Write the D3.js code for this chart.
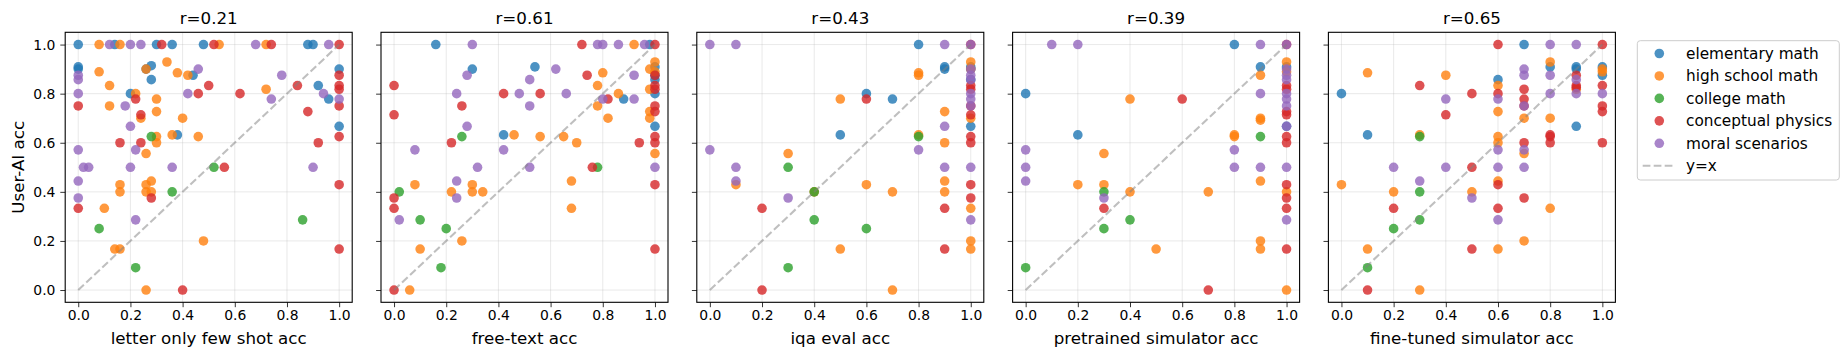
<!DOCTYPE html>
<html><head><meta charset="utf-8">
<script src="https://cdn.jsdelivr.net/npm/d3@7"></script>
<style>body{margin:0;background:#fff}svg{display:block;font-family:"DejaVu Sans",sans-serif}</style>
</head><body><svg id="c" width="1848" height="359"></svg>
<script>
const categories = ["elementary math","high school math","college math","conceptual physics","moral scenarios"];
const colors = ["#1f77b4","#ff7f0e","#2ca02c","#d62728","#9467bd"];
const xLabels = ["letter only few shot acc","free-text acc","iqa eval acc","pretrained simulator acc","fine-tuned simulator acc"];
const rValues = ["r=0.21","r=0.61","r=0.43","r=0.39","r=0.65"];
const tickValues = [0,0.2,0.4,0.6,0.8,1.0];
const yLabel = "User-AI acc";

// panel 1: letter only few shot acc
const p1Elem = [[0,1],[0,0.9],[0,0.909],[0.14,1],[0.3,1],[0.36,1],[0.48,1],[0.88,1],[0.9,1],[0.26,0.9],[0.28,0.914],[0.28,0.857],[0.2,0.8],[0.44,0.875],[0.38,0.632],[0.92,0.833],[0.96,0.778],[1,0.9],[1,0.667]];
const p1High = [[0.08,1],[0.16,1],[0.54,1],[0.72,1],[0.34,0.929],[0.08,0.889],[0.38,0.885],[0.42,0.875],[0.26,0.9],[0.12,0.833],[0.22,0.8],[0.72,0.818],[0.12,0.75],[0.3,0.778],[0.3,0.727],[0.24,0.7],[0.4,0.7],[0.3,0.625],[0.3,0.6],[0.36,0.632],[0.46,0.625],[0.26,0.556],[0.16,0.429],[0.16,0.4],[0.26,0.429],[0.28,0.444],[0.26,0.4],[0.28,0.4],[0.1,0.333],[0.14,0.167],[0.16,0.167],[0.48,0.2],[0.26,0]];
const p1College = [[0.28,0.625],[0.36,0.4],[0.52,0.5],[0.08,0.25],[0.22,0.091],[0.86,0.286]];
const p1Physics = [[0.32,1],[0.52,1],[0.74,1],[1,1],[0.5,0.833],[0.46,0.8],[0.62,0.8],[0.84,0.833],[0.22,0.778],[0,0.75],[0.24,0.714],[0.88,0.727],[0.16,0.6],[0.24,0.6],[0.92,0.6],[0.56,0.5],[0.28,0.375],[0,0.333],[0.4,0],[1,0.875],[1,0.833],[1,0.818],[1,0.75],[1,0.625],[1,0.429],[1,0.167]];
const p1Moral = [[0.12,1],[0.2,1],[0.24,1],[0.68,1],[0.96,1],[0,0.875],[0,0.857],[0,0.8],[0.46,0.9],[0.42,0.8],[0.78,0.875],[0.74,0.778],[0.94,0.8],[1,0.778],[0.18,0.75],[0.2,0.667],[0,0.571],[0.22,0.571],[0.02,0.5],[0.04,0.5],[0.2,0.5],[0.36,0.5],[0.9,0.5],[0,0.444],[0,0.375],[0.22,0.286]];

// panel 2: free-text acc
const p2Elem = [[0.16,1],[0.3,0.9],[0.54,0.909],[0.42,0.632],[0.88,0.778],[0.98,1],[1,0.909],[1,0.857],[1,0.8],[1,0.667],[1,0.875]];
const p2High = [[0.92,1],[0.8,0.885],[0.78,0.833],[0.86,0.8],[0.78,0.75],[0.82,0.7],[0.46,0.632],[0.56,0.625],[0.65,0.625],[0.7,0.6],[0.68,0.444],[0.68,0.333],[0.08,0.429],[0.22,0.4],[0.3,0.429],[0.3,0.4],[0.34,0.4],[0.26,0.2],[0.1,0.167],[0.06,0],[1,0.929],[0.98,0.9],[1,0.889],[0.98,0.818],[0.98,0.727],[0.98,0.7],[1,0.556]];
const p2College = [[0.26,0.625],[0.78,0.5],[0.02,0.4],[0.1,0.286],[0.2,0.25],[0.18,0.091]];
const p2Physics = [[0.72,1],[1,1],[0.74,0.875],[0,0.833],[0.42,0.8],[0.56,0.8],[0.26,0.75],[0,0.714],[0.82,0.778],[0.22,0.6],[0.94,0.6],[0.76,0.5],[0,0.375],[0,0.333],[0,0],[1,0.875],[1,0.833],[1,0.818],[1,0.75],[1,0.727],[1,0.625],[1,0.6],[1,0.429],[1,0.167]];
const p2Moral = [[0.3,1],[0.78,1],[0.8,1],[0.86,1],[0.96,1],[0.62,0.9],[0.28,0.875],[0.52,0.857],[0.24,0.8],[0.48,0.8],[0.66,0.8],[0.52,0.75],[0.8,0.778],[0.92,0.875],[0.92,0.778],[0.28,0.667],[0.08,0.571],[0.42,0.571],[0.32,0.5],[0.52,0.5],[0.24,0.444],[0.24,0.375],[0.02,0.286],[1,0.5]];

// panel 3: iqa eval acc
const p3Elem = [[0.8,1],[0.9,0.909],[0.9,0.9],[0.6,0.8],[0.7,0.778],[0.5,0.632],[1,0.909],[1,0.667],[1,0.9],[1,0.857]];
const p3High = [[0.8,0.885],[0.8,0.875],[0.5,0.778],[0.9,0.727],[0.8,0.632],[0.9,0.6],[0.3,0.556],[0.1,0.429],[0.6,0.429],[0.7,0.4],[0.9,0.444],[0.9,0.4],[0.5,0.167],[0.7,0],[0.4,0.4],[1,0.929],[1,0.9],[1,0.7],[1,0.333],[1,0.2],[1,0.167]];
const p3College = [[0.8,0.625],[0.3,0.5],[0.4,0.4],[0.4,0.286],[0.6,0.25],[0.3,0.091]];
const p3Physics = [[0.6,0.778],[0.2,0.333],[0.9,0.333],[0.9,0.167],[0.2,0],[1,1],[1,0.833],[1,0.818],[1,0.75],[1,0.714],[1,0.625],[1,0.6],[1,0.429],[1,0.375]];
const p3Moral = [[0,1],[0.1,1],[0.9,1],[1,1],[0,0.571],[0.1,0.5],[0.1,0.444],[0.3,0.375],[0.8,0.571],[0.9,0.667],[0.9,0.5],[1,0.9],[1,0.875],[1,0.857],[1,0.8],[1,0.778],[1,0.75],[1,0.5],[1,0.286]];

// panel 4: pretrained simulator acc
const p4Elem = [[0.8,1],[0.9,0.909],[0,0.8],[0.2,0.632],[1,0.909],[1,0.667]];
const p4High = [[0.9,0.875],[0.4,0.778],[0.9,0.7],[0.9,0.692],[0.8,0.632],[0.8,0.625],[0.3,0.556],[0.2,0.429],[0.3,0.429],[0.4,0.4],[0.7,0.4],[0.9,0.444],[0.5,0.167],[0.9,0.2],[0.9,0.167],[1,0.929],[1,0.889],[1,0.4],[1,0]];
const p4College = [[0.9,0.625],[0.3,0.4],[0.4,0.286],[0.3,0.25],[0,0.091]];
const p4Physics = [[0.6,0.778],[0.3,0.333],[0.7,0],[1,1],[1,0.833],[1,0.818],[1,0.727],[1,0.714],[1,0.625],[1,0.6],[1,0.429],[1,0.375],[1,0.333],[1,0.167]];
const p4Moral = [[0.1,1],[0.2,1],[0.9,1],[1,1],[0.9,0.8],[0,0.571],[0,0.5],[0,0.444],[0.3,0.375],[0.8,0.571],[0.8,0.5],[0.9,0.5],[1,0.9],[1,0.875],[1,0.857],[1,0.8],[1,0.778],[1,0.75],[1,0.667],[1,0.5],[1,0.286]];

// panel 5: fine-tuned simulator acc
const p5Elem = [[0.7,1],[0,0.8],[0.1,0.632],[0.6,0.857],[0.8,0.909],[0.9,0.909],[0.9,0.9],[1,0.909],[1,0.875],[0.9,0.667]];
const p5High = [[0.1,0.885],[0.4,0.875],[0.8,0.929],[1,0.9],[1,0.889],[0.6,0.833],[0.6,0.727],[0.7,0.7],[0.8,0.7],[0.6,0.625],[0.6,0.6],[0.7,0.556],[0,0.429],[0.2,0.4],[0.3,0.632],[0.5,0.4],[0.6,0.444],[0.8,0.333],[0.7,0.2],[0.1,0.167],[0.6,0.167],[0.3,0],[0.9,0.818]];
const p5College = [[0.3,0.625],[0.3,0.4],[0.3,0.286],[0.2,0.25],[0.1,0.091]];
const p5Physics = [[0.6,1],[1,1],[0.3,0.833],[0.5,0.8],[0.6,0.8],[0.7,0.818],[0.7,0.778],[0.4,0.714],[0.7,0.75],[0.9,0.875],[0.9,0.833],[0.9,0.825],[1,0.833],[1,0.75],[1,0.727],[0.8,0.632],[0.8,0.625],[0.8,0.6],[0.7,0.6],[1,0.6],[0.5,0.5],[0.6,0.429],[0.7,0.375],[0.2,0.333],[0.6,0.333],[0.5,0.167],[0.1,0]];
const p5Moral = [[0.8,1],[0.9,1],[0.7,0.9],[0.7,0.875],[0.8,0.875],[0.9,0.857],[0.4,0.778],[0.6,0.778],[0.7,0.75],[0.8,0.8],[0.9,0.8],[1,0.8],[0.6,0.571],[0.7,0.571],[0.2,0.5],[0.4,0.5],[0.6,0.5],[0.7,0.5],[0.3,0.444],[0.5,0.375],[0.6,0.286]];

const panelSeries = [
  [p1Elem,p1High,p1College,p1Physics,p1Moral],
  [p2Elem,p2High,p2College,p2Physics,p2Moral],
  [p3Elem,p3High,p3College,p3Physics,p3Moral],
  [p4Elem,p4High,p4College,p4Physics,p4Moral],
  [p5Elem,p5High,p5College,p5Physics,p5Moral]
];

const svg = d3.select("#c");
svg.append("rect").attr("width",1848).attr("height",359).attr("fill","#fff");
const W = 287, H = 270, topY = 32.3, left0 = 65.2, step = 315.8, R = 4.8;
const y = d3.scaleLinear().domain([-0.05,1.05]).range([topY+H, topY]);

panelSeries.forEach((series, i) => {
  const L = left0 + i*step;
  const x = d3.scaleLinear().domain([-0.05,1.05]).range([L, L+W]);
  const g = svg.append("g");
  g.selectAll(".gx").data(tickValues).join("line")
    .attr("x1",d=>x(d)).attr("x2",d=>x(d)).attr("y1",topY).attr("y2",topY+H)
    .attr("stroke","#b0b0b0").attr("stroke-opacity",0.35).attr("stroke-width",0.8);
  g.selectAll(".gy").data(tickValues).join("line")
    .attr("x1",L).attr("x2",L+W).attr("y1",d=>y(d)).attr("y2",d=>y(d))
    .attr("stroke","#b0b0b0").attr("stroke-opacity",0.35).attr("stroke-width",0.8);
  series.forEach((pts, k) => {
    g.append("g").selectAll("circle").data(pts).join("circle")
      .attr("cx",d=>x(d[0])).attr("cy",d=>y(d[1])).attr("r",R)
      .attr("fill",colors[k]).attr("fill-opacity",0.8);
  });
  g.append("line").attr("x1",x(0)).attr("y1",y(0)).attr("x2",x(1)).attr("y2",y(1))
    .attr("stroke","#808080").attr("stroke-opacity",0.5).attr("stroke-width",2.08)
    .attr("stroke-dasharray","7.7,3.3");
  const xa = g.append("g").attr("transform",`translate(0,${topY+H})`)
    .call(d3.axisBottom(x).tickValues(tickValues).tickFormat(d3.format(".1f")).tickSize(4.9).tickPadding(3.2));
  const ya = g.append("g").attr("transform",`translate(${L},0)`)
    .call(d3.axisLeft(y).tickValues(tickValues).tickFormat(i===0?d3.format(".1f"):()=>"").tickSize(4.9).tickPadding(4.9));
  [xa,ya].forEach(a=>{
    a.select(".domain").remove();
    a.selectAll("line").attr("stroke","#000").attr("stroke-width",0.8);
    a.selectAll("text").attr("font-size",13.9).attr("fill","#000").attr("font-family","DejaVu Sans");
  });
  g.append("rect").attr("x",L).attr("y",topY).attr("width",W).attr("height",H)
    .attr("fill","none").attr("stroke","#000").attr("stroke-width",1.1);
  g.append("text").attr("x",L+W/2).attr("y",24).attr("text-anchor","middle")
    .attr("font-size",16.7).text(rValues[i]);
  g.append("text").attr("x",L+W/2).attr("y",344).attr("text-anchor","middle")
    .attr("font-size",16.7).text(xLabels[i]);
});
svg.append("text").attr("transform",`translate(23.5,${topY+H/2}) rotate(-90)`)
  .attr("text-anchor","middle").attr("font-size",16.7).text(yLabel);

const lg = svg.append("g");
lg.append("rect").attr("x",1637.3).attr("y",40.7).attr("width",202).attr("height",139.3)
  .attr("rx",3).attr("fill","#fff").attr("fill-opacity",0.8).attr("stroke","#cccccc").attr("stroke-width",1);
categories.forEach((c,k)=>{
  const cy = 53.5 + k*22.45;
  lg.append("circle").attr("cx",1659.3).attr("cy",cy).attr("r",R).attr("fill",colors[k]).attr("fill-opacity",0.8);
  lg.append("text").attr("x",1686).attr("y",cy+5.2).attr("font-size",15.3).text(c);
});
const ly = 53.5 + 5*22.45;
lg.append("line").attr("x1",1642.7).attr("x2",1673).attr("y1",ly).attr("y2",ly)
  .attr("stroke","#808080").attr("stroke-opacity",0.5).attr("stroke-width",2.08).attr("stroke-dasharray","7.7,3.3");
lg.append("text").attr("x",1686).attr("y",ly+5.2).attr("font-size",15.3).text("y=x");
</script></body></html>
